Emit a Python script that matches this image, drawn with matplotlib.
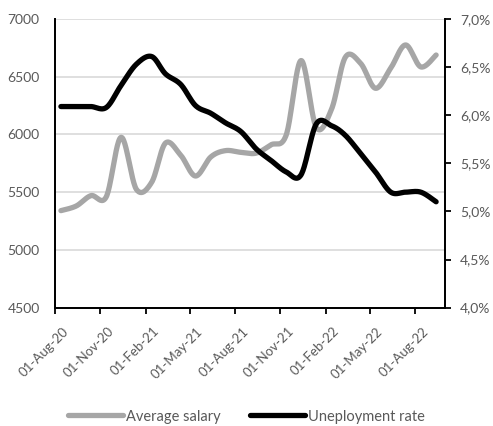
import numpy as np
import pandas as pd
import matplotlib
matplotlib.use("Agg")
import matplotlib.pyplot as plt
import matplotlib.dates as mdates
import matplotlib.transforms as mtransforms
from matplotlib.ticker import FuncFormatter, MultipleLocator

plt.rcParams['font.family'] = ['Lato', 'DejaVu Sans']

# monthly observations, Aug 2020 - Sep 2022
dates = pd.date_range('2020-08-01', periods=26, freq='MS') + pd.Timedelta(days=12)
salary = [5340, 5380, 5470, 5460, 5975, 5525, 5585, 5925, 5820, 5640,
          5805, 5860, 5845, 5838, 5910, 5996, 6640, 6060, 6220, 6670,
          6615, 6400, 6575, 6775, 6585, 6688]
unemployment = [6.09, 6.09, 6.09, 6.08, 6.31, 6.53, 6.61, 6.43, 6.32, 6.10,
                6.02, 5.92, 5.83, 5.65, 5.53, 5.41, 5.38, 5.91, 5.89, 5.79,
                5.60, 5.41, 5.20, 5.20, 5.20, 5.10]

salary_color = '#a6a6a6'
rate_color = '#000000'
label_color = '#595959'


def smooth(x, y, steps=24):
    # Catmull-Rom curve through the points (like Excel's smoothed line)
    x = np.asarray(x, float)
    y = np.asarray(y, float)
    px = np.concatenate([[x[0]], x, [x[-1]]])
    py = np.concatenate([[y[0]], y, [y[-1]]])
    xs, ys = [], []
    t = np.linspace(0, 1, steps, endpoint=False)
    for i in range(1, len(px) - 2):
        for p, out in ((px, xs), (py, ys)):
            p0, p1, p2, p3 = p[i - 1], p[i], p[i + 1], p[i + 2]
            c1 = p1 + (p2 - p0) / 6
            c2 = p2 - (p3 - p1) / 6
            out.extend((1 - t) ** 3 * p1 + 3 * (1 - t) ** 2 * t * c1
                       + 3 * (1 - t) * t ** 2 * c2 + t ** 3 * p2)
    xs.append(x[-1])
    ys.append(y[-1])
    return np.array(xs), np.array(ys)


xnum = mdates.date2num(dates)

fig = plt.figure(figsize=(4.93, 4.26), dpi=100)
ax = fig.add_axes([55 / 493, 1 - 307.6 / 426, 390 / 493, 288.6 / 426])
ax2 = ax.twinx()

sx, sy = smooth(xnum, salary)
ax.plot(sx, sy, color=salary_color, lw=3.8, solid_capstyle='round',
        label='Average salary')
ux, uy = smooth(xnum, unemployment)
ax2.plot(ux, uy, color=rate_color, lw=3.8, solid_capstyle='round',
         label='Uneployment rate')

ax.set_xlim(mdates.date2num(pd.Timestamp('2020-08-01')),
            mdates.date2num(pd.Timestamp('2022-10-01')))
ax.set_ylim(4500, 7000)
ax.yaxis.set_major_locator(MultipleLocator(500))
ax2.set_ylim(4.0, 7.0)
ax2.yaxis.set_major_locator(MultipleLocator(0.5))
ax2.yaxis.set_major_formatter(FuncFormatter(lambda v, _: f'{v:.1f}%'.replace('.', ',')))

ax.xaxis.set_major_locator(mdates.MonthLocator(bymonth=[2, 5, 8, 11]))
ax.xaxis.set_major_formatter(mdates.DateFormatter('%d-%b-%y'))

ax.grid(axis='y', color='#d9d9d9', lw=1.2)
ax.set_axisbelow(True)

for a in (ax, ax2):
    a.spines['top'].set_visible(False)
    for s in ('left', 'right', 'bottom'):
        a.spines[s].set_linewidth(1.3)
        a.spines[s].set_color('black')

ax.tick_params(axis='y', length=0, labelsize=10, labelcolor=label_color, pad=11)
ax.tick_params(axis='x', length=4, width=1.3, direction='out',
               labelsize=9.5, labelcolor=label_color)
ax2.tick_params(axis='y', length=4, width=1.3, direction='out',
                labelsize=10, labelcolor=label_color, pad=7)

# slanted date labels, nudged right/down under their ticks
shift = mtransforms.ScaledTranslation(0.07, -0.07, fig.dpi_scale_trans)
for lbl in ax.get_xticklabels():
    lbl.set_rotation(45)
    lbl.set_ha('right')
    lbl.set_rotation_mode('anchor')
    lbl.set_transform(lbl.get_transform() + shift)

h1, l1 = ax.get_legend_handles_labels()
h2, l2 = ax2.get_legend_handles_labels()
fig.legend(h1 + h2, l1 + l2, loc='center', bbox_to_anchor=(0.5, 1 - 416.5 / 426),
           ncol=2, frameon=False, fontsize=10.5, handlelength=3.8,
           handletextpad=0.2, columnspacing=2.0, labelcolor=label_color)

fig.savefig('out.png', dpi=100)
